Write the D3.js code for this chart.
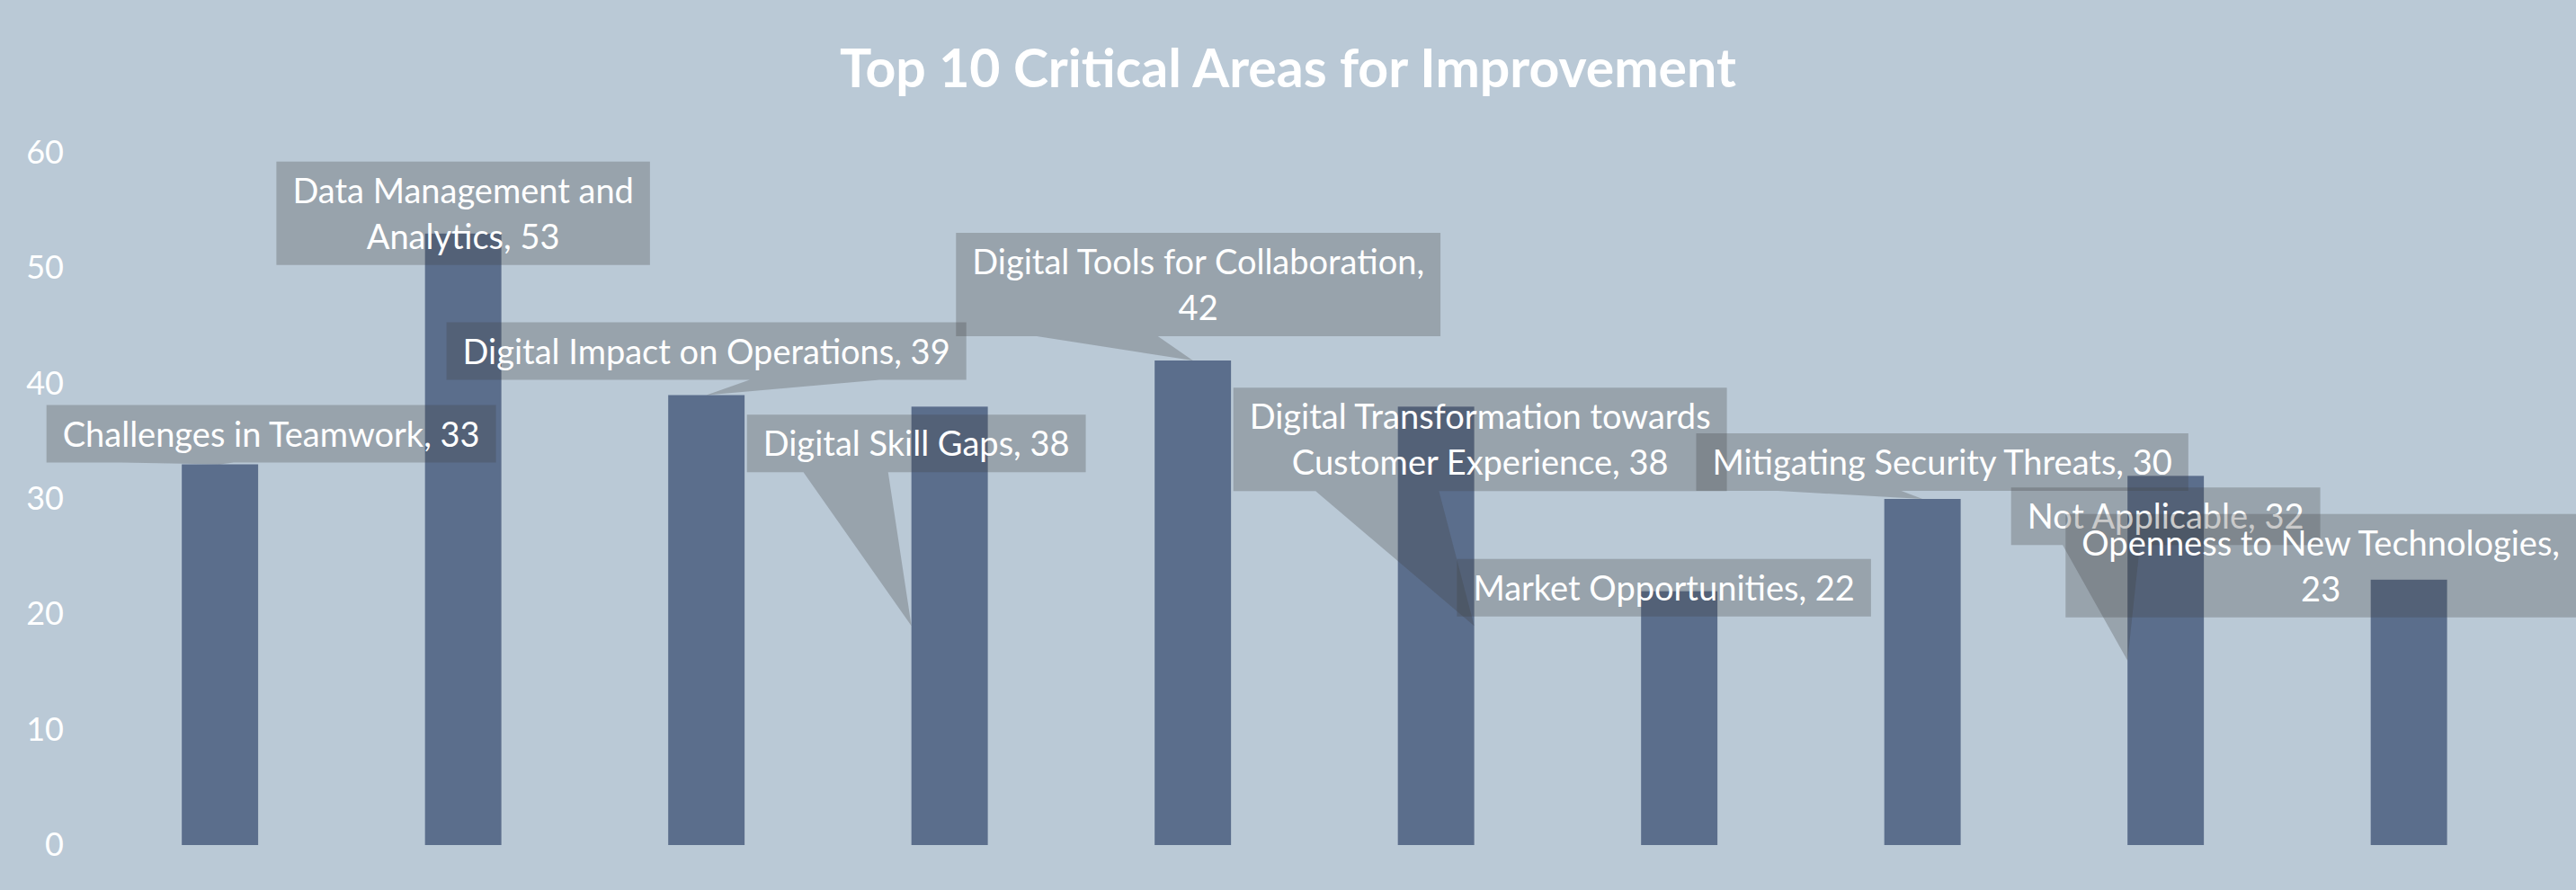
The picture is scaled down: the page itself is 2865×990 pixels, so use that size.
<!DOCTYPE html>
<html>
<head>
<meta charset="utf-8">
<script src="https://cdn.jsdelivr.net/npm/d3@7"></script>
<style>
    body { margin: 0; background: #bac9d6; }
    svg { display: block; font-family: Lato, "Open Sans", sans-serif; }
</style>
</head>
<body>
<div class="vis-barchart"></div>
<script>
// chart data
const title = "Top 10 Critical Areas for Improvement";
const categories = [
    "Challenges in Teamwork",
    "Data Management and Analytics",
    "Digital Impact on Operations",
    "Digital Skill Gaps",
    "Digital Tools for Collaboration",
    "Digital Transformation towards Customer Experience",
    "Market Opportunities",
    "Mitigating Security Threats",
    "Not Applicable",
    "Openness to New Technologies"
];
const values = [33, 53, 39, 38, 42, 38, 22, 30, 32, 23];
const yTicks = [0, 10, 20, 30, 40, 50, 60];

// callout placement (pixels, relative to the top centre of each bar)
// words = how many words go on the first line (0 = single line)
// anchor = where the callout pointer aims on the bar
const calloutLayout = [
    { dx: 57, dy: -66, words: 0, anchor: "top" },
    { dx: 0, dy: -80, words: 3, anchor: "top" },
    { dx: 0, dy: -81, words: 0, anchor: "top" },
    { dx: -37, dy: 9, words: 0, anchor: "leftMid" },
    { dx: 6, dy: -142, words: 4, anchor: "top" },
    { dx: 49, dy: -21, words: 3, anchor: "rightMid" },
    { dx: -17, dy: -36, words: 0, anchor: "top" },
    { dx: 22, dy: -73, words: 0, anchor: "top" },
    { dx: 0, dy: 13, words: 0, anchor: "leftMid" },
    { dx: -98, dy: -73, words: 4, anchor: "top" }
];

const W = 2865, H = 990;
const plot = { left: 109.4, right: 2814.4, top: 170, bottom: 940 };

const svg = d3.select(".vis-barchart")
    .append("svg")
    .attr("width", W)
    .attr("height", H);

svg.append("rect")
    .attr("width", W)
    .attr("height", H)
    .attr("fill", "#bac9d6");

// Title
svg.append("text")
    .attr("x", W / 2)
    .attr("y", 97)
    .attr("text-anchor", "middle")
    .attr("fill", "#ffffff")
    .style("font-size", "59px")
    .style("font-weight", "bold")
    .text(title);

const x = d3.scaleBand()
    .domain(categories)
    .range([plot.left, plot.right])
    .paddingInner(0.686)
    .paddingOuter(0.343);

const y = d3.scaleLinear()
    .domain([0, 60])
    .range([plot.bottom, plot.top]);

// Y axis (labels only)
const yAxis = svg.append("g")
    .attr("transform", "translate(80,0)")
    .call(d3.axisLeft(y).tickValues(yTicks).tickSize(0).tickPadding(9));
yAxis.select(".domain").remove();
yAxis.selectAll("text")
    .attr("fill", "#ffffff")
    .attr("font-size", null)
    .style("font-size", "36px")
    .style("font-family", "Lato, 'Open Sans', sans-serif");

// Bars
svg.append("g")
    .selectAll("rect")
    .data(values)
    .join("rect")
    .attr("x", (d, i) => x(categories[i]))
    .attr("y", d => y(d))
    .attr("width", x.bandwidth())
    .attr("height", d => y(0) - y(d))
    .attr("fill", "#5b6e8c");

// Callout data labels
const labelG = svg.append("g");
const pad = 18, lineH = 51, boxH = 64;

values.forEach((v, i) => {
    const cat = categories[i];
    const lay = calloutLayout[i];
    const words = `${cat}, ${v}`.split(" ");
    const lines = lay.words > 0
        ? [words.slice(0, lay.words).join(" "), words.slice(lay.words).join(" ")]
        : [words.join(" ")];

    const cx = x(cat) + x.bandwidth() / 2;
    const g = labelG.append("g");
    const path = g.append("path");

    const texts = lines.map(line => g.append("text")
        .attr("text-anchor", "middle")
        .attr("fill", "#ffffff")
        .style("font-size", "38px")
        .text(line));
    const tw = d3.max(texts, t => t.node().getComputedTextLength());

    const w = tw + pad * 2;
    const h = boxH + lineH * (lines.length - 1);
    const l = cx + lay.dx - w / 2, t = y(v) + lay.dy;
    const r = l + w, b = t + h;

    texts.forEach((tx, k) => tx.attr("x", cx + lay.dx).attr("y", t + 46 + k * lineH));

    let tipX = cx, tipY = y(v);
    if (lay.anchor === "leftMid") { tipX = x(cat); tipY = y(v / 2); }
    if (lay.anchor === "rightMid") { tipX = x(cat) + x.bandwidth(); tipY = y(v / 2); }

    let d;
    if (tipY > b) {
        const b1 = tipX < l + w / 2 ? l + w / 6 : l + w * 7 / 12;
        const b2 = tipX < l + w / 2 ? l + w * 5 / 12 : l + w * 5 / 6;
        d = `M${l},${t}H${r}V${b}H${b2}L${tipX},${tipY}L${b1},${b}H${l}Z`;
    } else {
        d = `M${l},${t}H${r}V${b}H${l}Z`;
    }
    path.attr("d", d)
        .attr("fill", "#404040")
        .attr("fill-opacity", 0.28);
});
</script>
</body>
</html>
